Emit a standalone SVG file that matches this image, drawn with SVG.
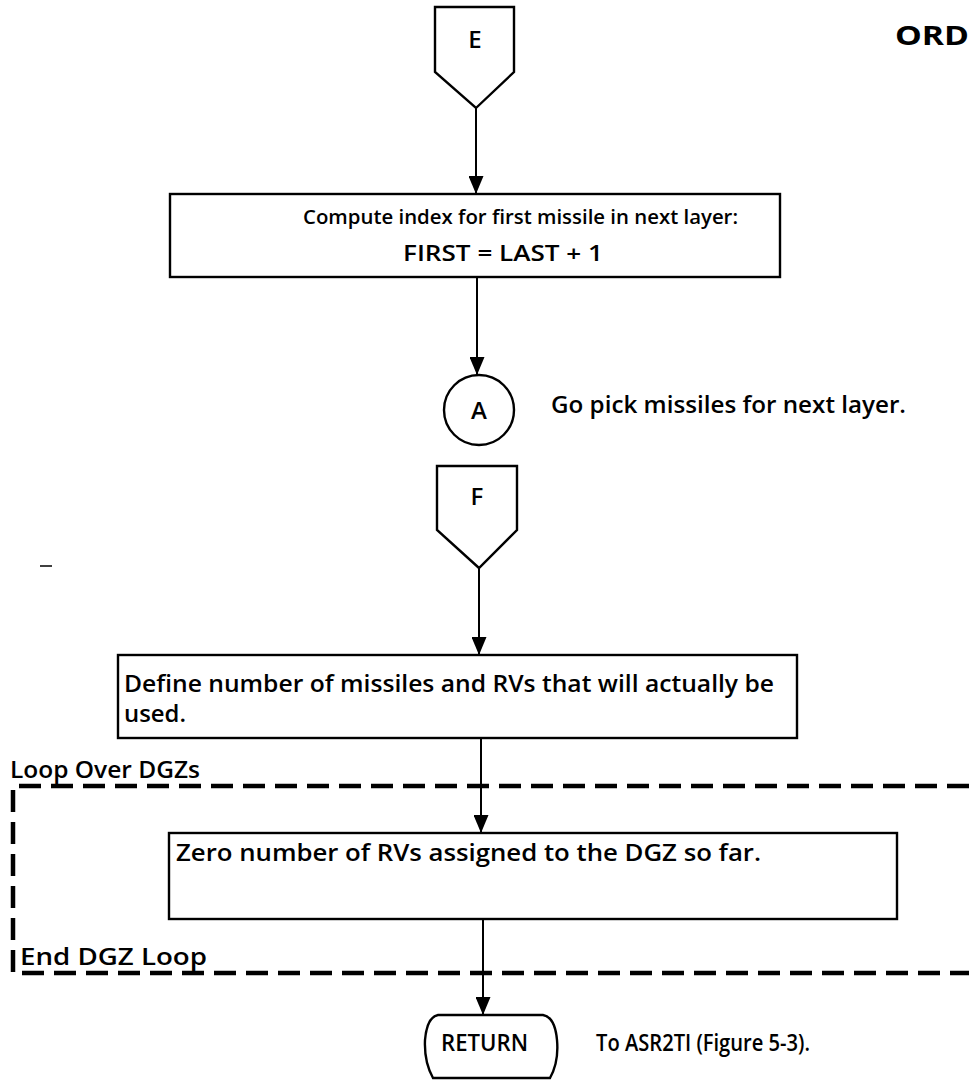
<svg xmlns="http://www.w3.org/2000/svg" width="969" height="1080" viewBox="0 0 969 1080">
<style>
.shape{fill:#fff;stroke:#000;stroke-width:2.4}
.t{font-family:"Open Sans","Liberation Sans",sans-serif;font-size:24px;font-weight:600;fill:#000}
.c{text-anchor:middle}
.line{stroke:#000;stroke-width:2;fill:none}
.dash{stroke:#000;stroke-width:4.5;fill:none;stroke-dasharray:22 10}
</style>
<defs>
<marker id="arr" markerWidth="18" markerHeight="15" refX="18" refY="7.5" orient="auto" markerUnits="userSpaceOnUse" viewBox="0 0 18 15">
<path d="M0,0 L18,7.5 L0,15 Z" fill="#000"/>
</marker>
</defs>
<rect width="969" height="1080" fill="#fff"/>
<text class="t" x="895" y="45" textLength="74" lengthAdjust="spacingAndGlyphs" style="font-size:27px;font-weight:700">ORD</text>
<line x1="40" y1="566" x2="52" y2="566" stroke="#000" stroke-width="1.5"/>

<g id="connectors">
<line class="line" x1="476" y1="108" x2="476" y2="194" marker-end="url(#arr)"/>
<line class="line" x1="477" y1="277" x2="477" y2="375" marker-end="url(#arr)"/>
<line class="line" x1="479" y1="568" x2="479" y2="655" marker-end="url(#arr)"/>
<line class="line" x1="481" y1="738" x2="481" y2="833" marker-end="url(#arr)"/>
<line class="line" x1="483" y1="919" x2="483" y2="1015" marker-end="url(#arr)"/>
</g>

<g id="loop">
<path class="dash" d="M969,786 L13,786 L13,973 L969,973"/>
<text class="t" x="10" y="778" textLength="190" lengthAdjust="spacingAndGlyphs">Loop Over DGZs</text>
<text class="t" x="20" y="965" textLength="187" lengthAdjust="spacingAndGlyphs">End DGZ Loop</text>
</g>

<g id="E">
<path class="shape" d="M435,7 L514,7 L514,72 L476,108 L435,72 Z"/>
<text class="t c" x="475" y="48">E</text>
</g>

<g id="compute">
<rect class="shape" x="170" y="194" width="610" height="83"/>
<text class="t" x="303" y="224" textLength="435" lengthAdjust="spacingAndGlyphs" style="font-size:20px">Compute index for first missile in next layer:</text>
<text class="t" x="403" y="261" textLength="200" lengthAdjust="spacingAndGlyphs" style="font-size:22px">FIRST  =  LAST  +  1</text>
</g>

<g id="A">
<ellipse class="shape" cx="479" cy="410" rx="35" ry="35"/>
<text class="t c" x="479" y="419">A</text>
<text class="t" x="551" y="413" textLength="355" lengthAdjust="spacingAndGlyphs">Go pick missiles for next layer.</text>
</g>

<g id="F">
<path class="shape" d="M437,466 L517,466 L517,530 L479,568 L437,530 Z"/>
<text class="t c" x="477" y="505">F</text>
</g>

<g id="define">
<rect class="shape" x="118" y="655" width="679" height="83"/>
<text class="t" x="124" y="692" textLength="650" lengthAdjust="spacingAndGlyphs">Define number of missiles and RVs that will actually be</text>
<text class="t" x="124" y="722" textLength="62" lengthAdjust="spacingAndGlyphs">used.</text>
</g>

<g id="zero">
<rect class="shape" x="169" y="833" width="728" height="86"/>
<text class="t" x="176" y="861" textLength="585" lengthAdjust="spacingAndGlyphs">Zero number of RVs assigned to the DGZ so far.</text>
</g>

<g id="return">
<path class="shape" d="M438,1015 H543 Q555,1017 557,1040 Q559,1062 550,1078 H433 Q424,1062 425,1040 Q427,1017 438,1015 Z"/>
<text class="t" x="441" y="1051" textLength="87" lengthAdjust="spacingAndGlyphs">RETURN</text>
<text class="t" x="596" y="1051" textLength="214" lengthAdjust="spacingAndGlyphs">To ASR2TI (Figure 5-3).</text>
</g>
</svg>
